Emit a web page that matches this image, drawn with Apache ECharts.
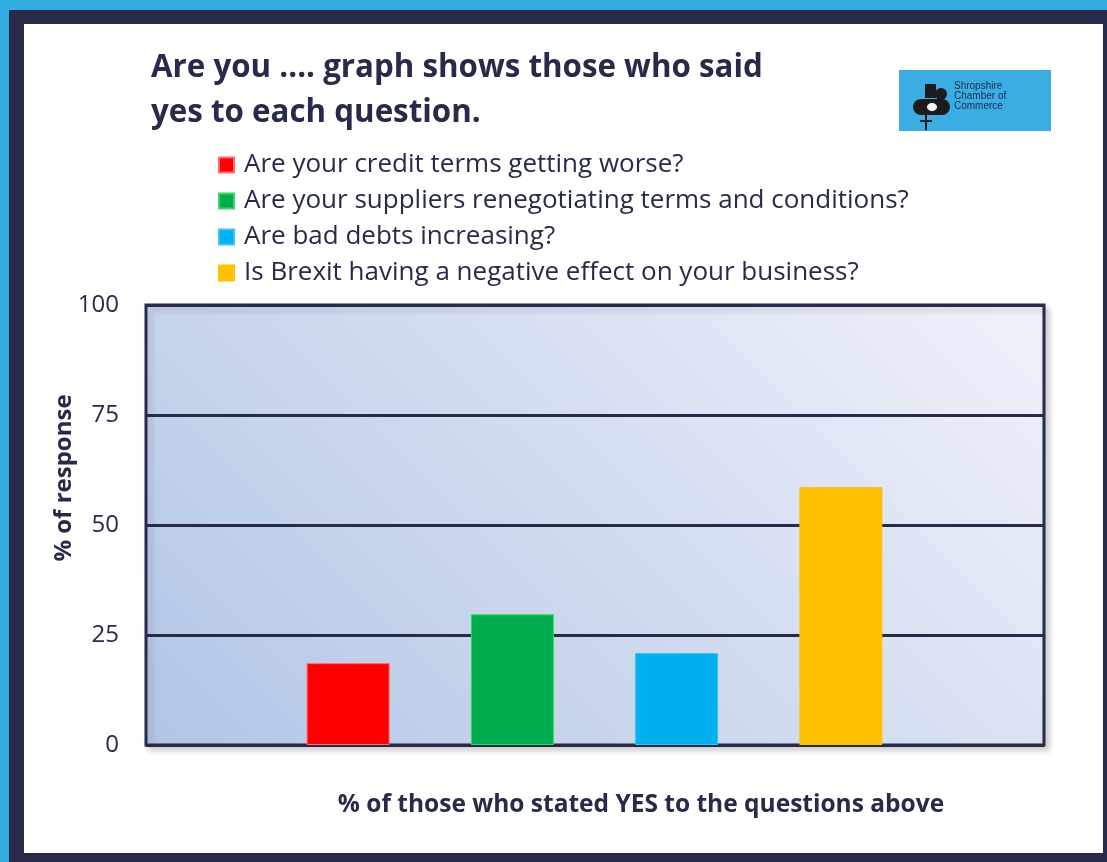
<!DOCTYPE html>
<html>
<head>
  <meta charset="utf-8">
  <title>Are you .... graph</title>
  <script src="https://cdn.jsdelivr.net/npm/echarts@6/dist/echarts.min.js"></script>
  <style>
    html, body { margin: 0; padding: 0; }
    #chart { width: 1107px; height: 862px; }
  </style>
</head>
<body>
<div id="chart"></div>
<script>
  // data
  var questions = [
    'Are your credit terms getting worse?',
    'Are your suppliers renegotiating terms and conditions?',
    'Are bad debts increasing?',
    'Is Brexit having a negative effect on your business?'
  ];
  var yesPercent = [18.6, 29.7, 20.9, 58.6];
  var barColors = ['#FF0000', '#00AD4E', '#00B0F0', '#FFC000'];
  var barBorders = ['#FF6A6A', '#3DD563', '#3BC3F3', '#FFC000'];
  var yTicks = [0, 25, 50, 75, 100];

  var navy = '#272A48';
  var font = 'Open Sans';

  var chart = echarts.init(document.getElementById('chart'));

  // one series per question so the legend lists each one
  var series = questions.map(function (q, i) {
    var d = questions.map(function (_, j) { return j === i ? yesPercent[i] : '-'; });
    return {
      name: q,
      type: 'bar',
      stack: 'yes',
      xAxisIndex: 1,
      yAxisIndex: 1,
      barWidth: 83,
      data: d,
      itemStyle: { color: barColors[i], borderColor: barBorders[i], borderWidth: 1 }
    };
  });

  var option = {
    backgroundColor: '#31ACE0',
    textStyle: { fontFamily: font },
    animation: false,
    title: {
      text: 'Are you .... graph shows those who said\nyes to each question.',
      left: 146,
      top: 41,
      textStyle: { fontFamily: font, fontSize: 31.3, fontWeight: 'bold', color: navy, lineHeight: 45 }
    },
    legend: {
      data: questions,
      orient: 'vertical',
      left: 213,
      top: 147,
      icon: 'rect',
      itemWidth: 15,
      itemHeight: 15,
      itemGap: 10,
      textStyle: { fontFamily: font, fontSize: 26, color: navy, padding: [0, 0, 0, 5] }
    },
    graphic: [
      { type: 'rect', z: -100, shape: { x: 9, y: 10, width: 1098, height: 852 }, style: { fill: navy } },
      { type: 'rect', z: -99, shape: { x: 24, y: 24, width: 1079, height: 829 }, style: { fill: '#ffffff' } },
      // logo
      { type: 'rect', z: -98, shape: { x: 899, y: 70, width: 152, height: 61 }, style: { fill: '#3AAEE3' } },
      { type: 'rect', z: 5, shape: { x: 925, y: 84, width: 11, height: 14 }, style: { fill: '#1b1b1b' } },
      { type: 'circle', z: 5, shape: { cx: 941, cy: 94, r: 6 }, style: { fill: '#1b1b1b' } },
      { type: 'rect', z: 5, shape: { x: 913, y: 99, width: 37, height: 16, r: 8 }, style: { fill: '#1b1b1b' } },
      { type: 'ellipse', z: 6, shape: { cx: 932, cy: 107, rx: 5, ry: 4 }, style: { fill: '#f4f4f4' } },
      { type: 'rect', z: 5, shape: { x: 925, y: 114, width: 2, height: 16 }, style: { fill: '#1b1b1b' } },
      { type: 'rect', z: 5, shape: { x: 920, y: 120, width: 12, height: 2 }, style: { fill: '#1b1b1b' } },
      {
        type: 'text', z: 5, left: 954, top: 81,
        style: { text: 'Shropshire\nChamber of\nCommerce', fontSize: 10, lineHeight: 10, fill: '#1E2A4A', fontFamily: 'Liberation Sans' }
      }
    ],
    grid: [
      {
        left: 146, top: 305, width: 898, height: 440,
        show: true,
        borderColor: navy,
        borderWidth: 3,
        shadowColor: 'rgba(0,0,0,0.18)',
        shadowBlur: 6,
        shadowOffsetX: 4,
        shadowOffsetY: 4,
        backgroundColor: new echarts.graphic.LinearGradient(146, 745, 815, 76, [
          { offset: 0, color: '#B2C5E6' },
          { offset: 1, color: '#F0F2FA' }
        ], true)
      },
      { left: 266, top: 305, width: 657, height: 440 }
    ],
    xAxis: [
      {
        type: 'category',
        gridIndex: 0,
        data: [''],
        axisLine: { show: false },
        axisTick: { show: false },
        axisLabel: { show: false },
        name: '% of those who stated YES to the questions above',
        nameLocation: 'middle',
        nameGap: 48,
        nameTextStyle: { fontFamily: font, fontSize: 24.5, fontWeight: 'bold', color: navy, padding: [0, 0, 0, 92] }
      },
      {
        type: 'category',
        gridIndex: 1,
        data: questions,
        axisLine: { show: false },
        axisTick: { show: false },
        axisLabel: { show: false }
      }
    ],
    yAxis: [
      {
        type: 'value',
        gridIndex: 0,
        min: yTicks[0],
        max: yTicks[yTicks.length - 1],
        interval: 25,
        axisLine: { show: false },
        axisTick: { show: false },
        axisLabel: { fontFamily: font, fontSize: 24, color: navy, margin: 27 },
        splitLine: { lineStyle: { color: navy, width: 3 } },
        name: '% of response',
        nameLocation: 'middle',
        nameGap: 70,
        nameMoveOverlap: false,
        nameTextStyle: { fontFamily: font, fontSize: 24, fontWeight: 'bold', color: navy, padding: [0, 0, 0, 94] }
      },
      {
        type: 'value',
        gridIndex: 1,
        min: 0,
        max: 100,
        show: false,
        splitLine: { show: false }
      }
    ],
    series: series
  };

  chart.setOption(option);
</script>
</body>
</html>
